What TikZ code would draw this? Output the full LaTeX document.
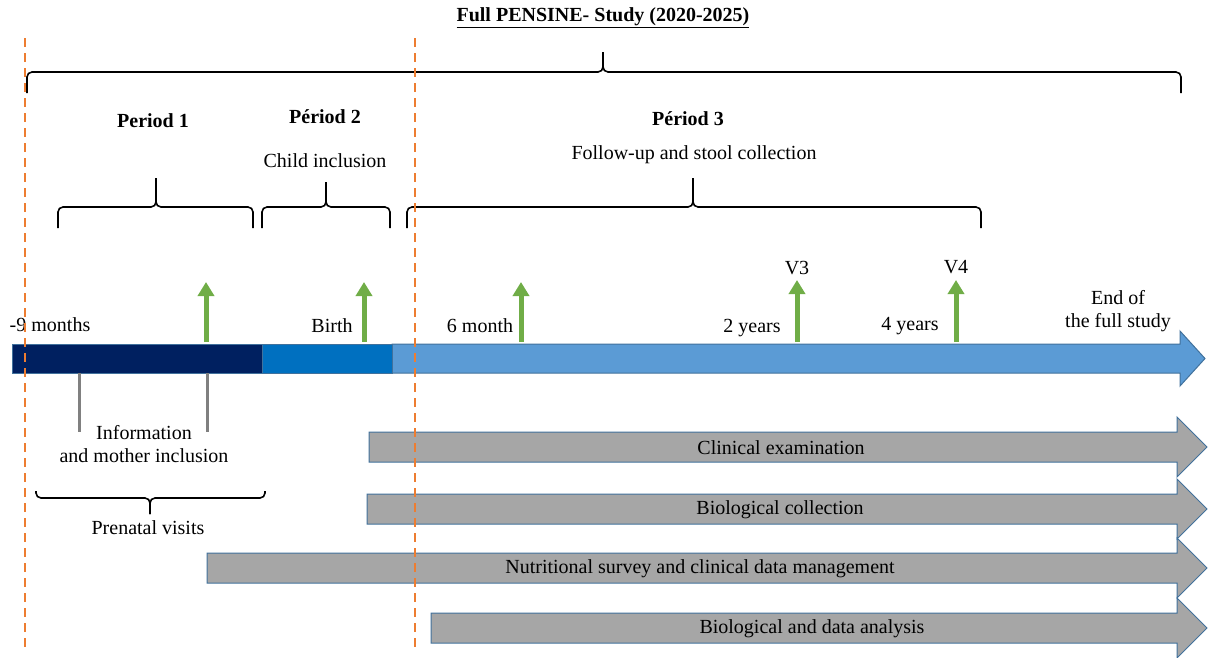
\documentclass[tikz,border=0pt]{standalone}
\usepackage{fontspec}
\setmainfont{Liberation Serif}
\usetikzlibrary{arrows.meta}
\definecolor{navyblue}{HTML}{002060}
\definecolor{midblue}{HTML}{0070C0}
\definecolor{lightblue}{HTML}{5B9BD5}
\definecolor{barborder}{HTML}{41719C}
\definecolor{taskgrey}{HTML}{A6A6A6}
\definecolor{dashorange}{HTML}{ED7D31}
\definecolor{visitgreen}{HTML}{70AD47}
\tikzset{>=Triangle,
	txt/.style={inner sep=0pt, font=\fontsize{20}{23}\selectfont},
	ttl/.style={inner sep=0pt, font=\fontsize{20}{23}\selectfont\bfseries},
	periodbrace/.style={line width=1.6pt, rounded corners=5pt},
	visit/.style={visitgreen, line width=5pt, -{Triangle[width=16pt,length=14pt]}},
	tickline/.style={gray, line width=3pt},
	taskarrow/.style={draw=barborder, fill=taskgrey, line width=1pt},
	phase/.style={draw=barborder, line width=1pt},
	limit/.style={dashorange, line width=2.4pt, dash pattern=on 9pt off 6pt}}

\begin{document}
\begin{tikzpicture}[x=1pt, y=-1pt]
		\useasboundingbox (0,0) rectangle (1213,657);

		% title and the whole-study brace
		\node[ttl] (title) at (603,18) {\underline{Full PENSINE- Study (2020-2025)}};
		\draw[periodbrace] (27,93) |- (603,72) -- (603,52);
		\draw[periodbrace] (1181,93) |- (603,72) -- (603,52);

		% periods
		\node[ttl] (per1) at (153,121) {Period 1};
		\node[ttl] (per2) at (325,117) {Périod 2};
		\node[ttl] (per3) at (688,119) {Périod 3};
		\node[txt] (incl) at (325,161) {Child inclusion};
		\node[txt] (follow) at (694,155) {Follow-up and stool collection};

		\draw[periodbrace] (58,228) |- (156,207) -- (156,178);
		\draw[periodbrace] (253,228) |- (156,207) -- (156,178);
		\draw[periodbrace] (262,228) |- (326,207) -- (326,182);
		\draw[periodbrace] (390,228) |- (326,207) -- (326,182);
		\draw[periodbrace] (407,228) |- (693,207) -- (693,178);
		\draw[periodbrace] (981,228) |- (693,207) -- (693,178);

		% visits
		\foreach \x/\ytop in {206/282, 364/282, 521/282, 797/280, 956/280}
			\draw[visit] (\x,342) -- (\x,\ytop);
		\node[txt] (mstart) at (50,325) {-9 months};
		\node[txt] (birth) at (332,326) {Birth};
		\node[txt] (m6) at (480,326) {6 month};
		\node[txt] (y2) at (752,328) {2 years};
		\node[txt] (y4) at (910,326) {4 years};
		\node[txt] (v3) at (797,268) {V3};
		\node[txt] (v4) at (956,267) {V4};
		\node[txt, align=center] (endstudy) at (1118,311) {End of\\the full study};

		% the time line
		\draw[phase, fill=lightblue] (392,344) -- (1180,344) -- (1180,331) -- (1205,358.5)
			-- (1180,386) -- (1180,373) -- (392,373) -- cycle;
		\draw[phase, fill=navyblue] (12,344) rectangle (262,373);
		\draw[phase, fill=midblue] (262,344) rectangle (392,373);

		\draw[tickline] (79,373) -- (79,432);
		\draw[tickline] (207,373) -- (207,432);
		\node[txt, align=center] (info) at (144,444) {Information\\and mother inclusion};

		\draw[periodbrace] (36,491) |- (150,498) -- (150,514);
		\draw[periodbrace] (265,491) |- (150,498) -- (150,514);
		\node[txt] (prenatal) at (148,528) {Prenatal visits};

		% tasks
		\foreach \xl/\yt/\name/\txt in {369/432/clin/Clinical examination,
			367/494/biocoll/Biological collection,
			207/553/nutri/Nutritional survey and clinical data management,
			431/613/analysis/Biological and data analysis}
		{
			\draw[taskarrow] (\xl,\yt) -- (1177,\yt) -- (1177,\yt-15) -- (1207,\yt+15)
				-- (1177,\yt+45) -- (1177,\yt+30) -- (\xl,\yt+30) -- cycle;
			\node[txt] (\name) at ({(\xl+1193)/2},{\yt+16}) {\txt};
		}

		% limits of period 1 and 2
		\draw[limit] (25,38) -- (25,648);
		\draw[limit] (415,38) -- (415,648);

	\end{tikzpicture}
\end{document}
